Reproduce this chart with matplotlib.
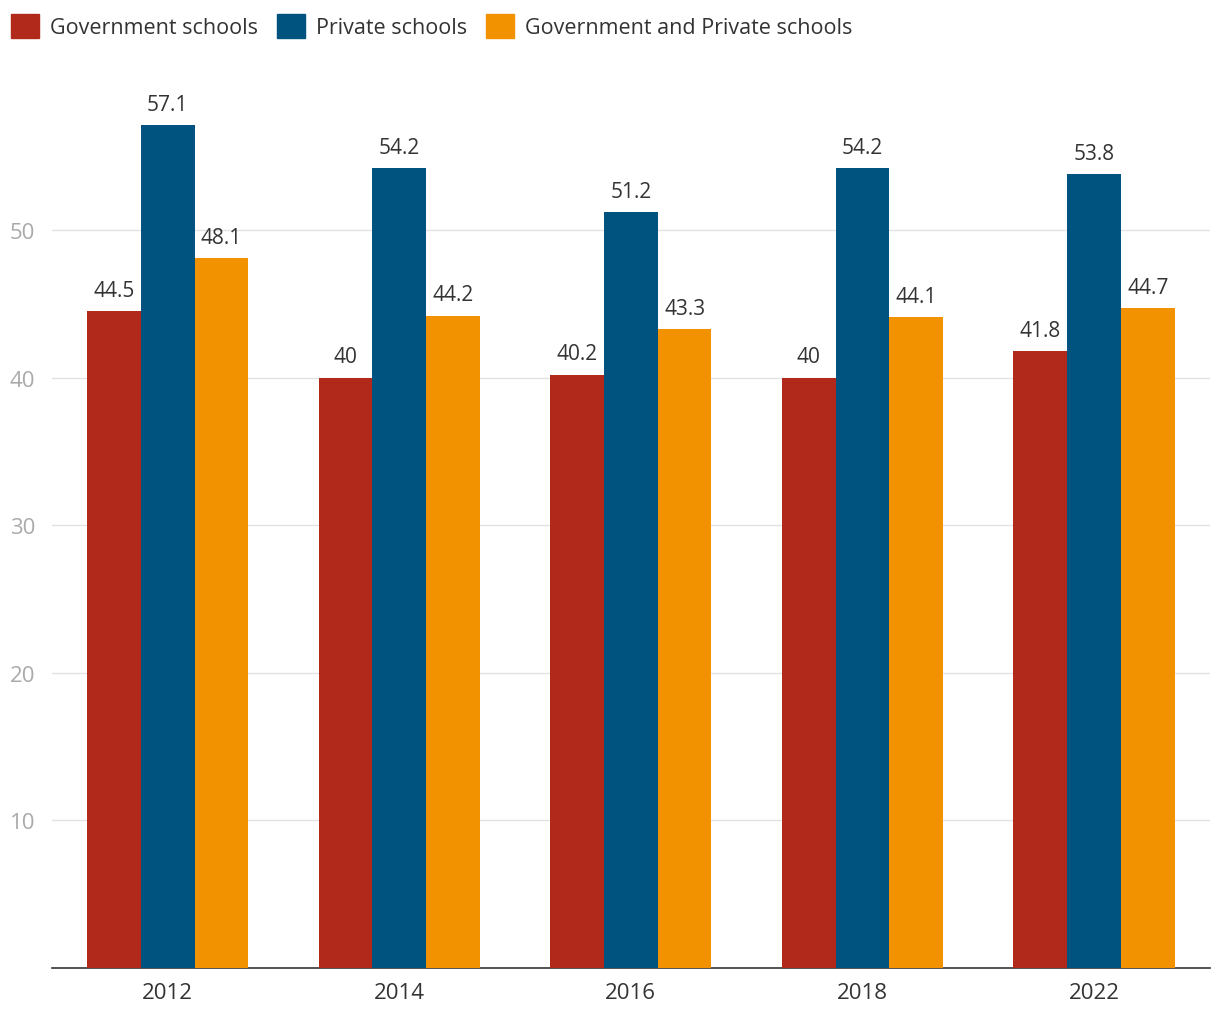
import numpy as np
import matplotlib.pyplot as plt
from matplotlib.patches import Patch

plt.rcParams['font.family'] = ['Open Sans', 'DejaVu Sans']

years = ["2012", "2014", "2016", "2018", "2022"]
government = [44.5, 40, 40.2, 40, 41.8]
private = [57.1, 54.2, 51.2, 54.2, 53.8]
combined = [48.1, 44.2, 43.3, 44.1, 44.7]

series = [
    ("Government schools", government, "#B0291A"),
    ("Private schools", private, "#00527F"),
    ("Government and Private schools", combined, "#F39200"),
]

fig = plt.figure(figsize=(12.2, 10.2), dpi=100)
ax = fig.add_axes([0.0426, 0.050, 0.949, 0.868])

x = np.arange(len(years))
w = 0.232
for i, (name, vals, col) in enumerate(series):
    pos = x + (i - 1) * w
    ax.bar(pos, vals, width=w, color=col, zorder=3)
    for p, v in zip(pos, vals):
        ax.text(p, v + 0.7, f"{v:g}", ha="center", va="bottom",
                fontsize=15, color="#333333")

ax.set_xlim(-0.5, len(years) - 0.5)
ax.set_ylim(0, 60)
ax.set_xticks(x)
ax.set_xticklabels(years, fontsize=16, color="#333333")
ax.set_yticks([10, 20, 30, 40, 50])
ax.set_yticklabels(["10", "20", "30", "40", "50"], fontsize=16, color="#aaaaaa")
ax.tick_params(axis="both", length=0, pad=10)
ax.tick_params(axis="y", pad=12)
ax.grid(axis="y", color="#e3e3e3", linewidth=1, zorder=0)
for s in ["top", "right", "left"]:
    ax.spines[s].set_visible(False)
ax.spines["bottom"].set_color("#333333")
ax.spines["bottom"].set_linewidth(1.2)

handles = [Patch(color=c, label=n) for n, _, c in series]
fig.legend(handles=handles, loc="upper left", bbox_to_anchor=(-0.007, 1.004),
           ncol=3, frameon=False, fontsize=15.5, handlelength=1.3,
           handleheight=1.3, handletextpad=0.5, columnspacing=0.9,
           labelcolor="#333333")

fig.savefig("out.png", dpi=100)
